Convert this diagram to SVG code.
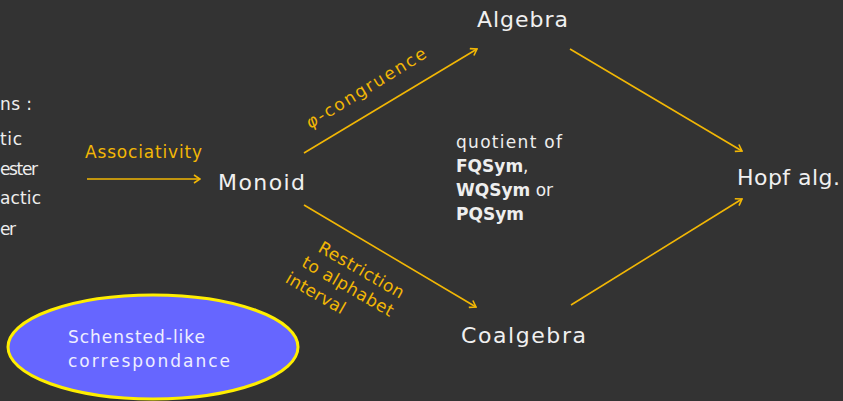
<svg xmlns="http://www.w3.org/2000/svg" width="843" height="401" viewBox="0 0 843 401">
<defs>
<style>
.bg{fill:#333333}
.node{font-family:"DejaVu Sans",sans-serif;font-size:22px;fill:#f0f0f0}
.txt{font-family:"DejaVu Sans",sans-serif;font-size:17px;fill:#eeeeee}
.lbl{font-family:"DejaVu Sans",sans-serif;font-size:17px;fill:#f2b705}
.b{font-weight:bold}
.edge{stroke:#f2b705;stroke-width:1.6;fill:none;marker-end:url(#ah)}
</style>
<marker id="ah" viewBox="0 0 10 10" refX="9" refY="5" markerWidth="10" markerHeight="10" markerUnits="userSpaceOnUse" orient="auto">
<path d="M3,1 L9,5 L3,9" fill="none" stroke="#f2b705" stroke-width="1.6"/>
</marker>
</defs>
<rect class="bg" x="0" y="0" width="843" height="401"/>

<g id="constructions">
<text class="txt" x="32" y="110" text-anchor="end" textLength="32">ns :</text>
<text class="txt" x="22" y="145" text-anchor="end" textLength="22">tic</text>
<text class="txt" x="38" y="175" text-anchor="end" textLength="38">ester</text>
<text class="txt" x="41" y="204" text-anchor="end" textLength="41">actic</text>
<text class="txt" x="16" y="235" text-anchor="end" textLength="16">er</text>
</g>

<g id="connectors">
<line class="edge" x1="87" y1="179" x2="200" y2="179"/>
<line class="edge" x1="304" y1="153" x2="477" y2="49"/>
<line class="edge" x1="304" y1="205" x2="476" y2="307"/>
<line class="edge" x1="570" y1="49" x2="742" y2="151"/>
<line class="edge" x1="571" y1="305" x2="742" y2="199"/>
</g>

<g id="edge-labels">
<text class="lbl" x="85" y="158" textLength="117">Associativity</text>
<text class="lbl" transform="translate(310,129) rotate(-31.5)" textLength="138"><tspan font-style="italic">φ</tspan>-congruence</text>
<g transform="translate(317,251) rotate(30)">
<text class="lbl" x="0" y="0" textLength="96">Restriction</text>
<text class="lbl" x="-7" y="21" textLength="103">to alphabet</text>
<text class="lbl" x="-13" y="43" textLength="66">interval</text>
</g>
</g>

<g id="node-algebra"><text class="node" x="477" y="27" textLength="91">Algebra</text></g>
<g id="node-monoid"><text class="node" x="218" y="190" textLength="87">Monoid</text></g>
<g id="node-hopf"><text class="node" x="737" y="185" textLength="103">Hopf alg.</text></g>
<g id="node-coalgebra"><text class="node" x="461" y="343" textLength="125">Coalgebra</text></g>

<g id="quotient">
<text class="txt" x="456" y="148" textLength="106">quotient of</text>
<text class="txt" x="456" y="172"><tspan class="b">FQSym</tspan>,</text>
<text class="txt" x="456" y="196"><tspan class="b">WQSym</tspan> or</text>
<text class="txt" x="456" y="220"><tspan class="b">PQSym</tspan></text>
</g>

<g id="node-schensted">
<ellipse cx="153" cy="347" rx="145" ry="52" fill="#6666ff" stroke="#ffee00" stroke-width="3"/>
<text class="txt" x="68" y="343" textLength="137" style="fill:#eeeeff">Schensted-like</text>
<text class="txt" x="68" y="367" textLength="162" style="fill:#eeeeff">correspondance</text>
</g>
</svg>
